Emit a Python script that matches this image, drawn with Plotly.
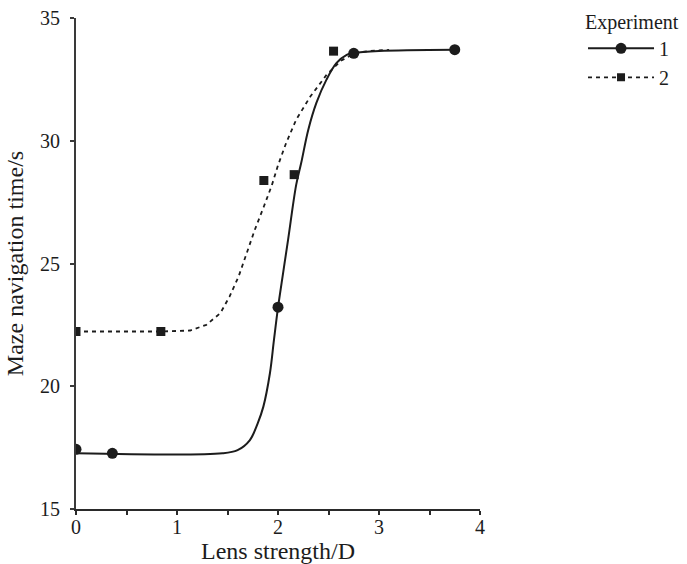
import plotly.graph_objects as go

# Measured data points
exp1_x = [0.0, 0.36, 2.0, 2.75, 3.75]
exp1_y = [17.43, 17.27, 23.22, 33.56, 33.71]
exp2_x = [0.0, 0.84, 1.86, 2.16, 2.55]
exp2_y = [22.23, 22.23, 28.38, 28.62, 33.65]

# Fitted curves
fit1_x = [0.0, 1.45, 1.6, 1.72, 1.8, 1.855, 1.92, 1.96, 2.0, 2.05, 2.1, 2.18, 2.23,
          2.3, 2.38, 2.48, 2.58, 2.68, 2.75, 3.0, 3.75]
fit1_y = [17.27, 17.27, 17.4, 17.8, 18.5, 19.17, 20.53, 21.89, 23.2, 24.6, 25.97, 28.2, 29.1,
          30.45, 31.54, 32.49, 33.17, 33.5, 33.58, 33.66, 33.71]
fit2_x = [0.0, 0.84, 1.13, 1.29, 1.43, 1.52, 1.61, 1.69, 1.77, 1.86, 1.94, 2.0, 2.08,
          2.18, 2.32, 2.48, 2.62, 2.75, 2.9, 3.1]
fit2_y = [22.23, 22.23, 22.27, 22.5, 22.98, 23.65, 24.47, 25.42, 26.37, 27.32, 28.2, 29.0, 29.9,
          30.86, 31.8, 32.68, 33.25, 33.55, 33.66, 33.7]

x_ticks = [0, 0.5, 1, 1.5, 2, 2.5, 3, 3.5, 4]
x_ticktext = ["0", "", "1", "", "2", "", "3", "", "4"]
y_ticks = [15, 20, 25, 30, 35]

INK = "#1c1c1c"
FONT = "Liberation Serif"

fig = go.Figure()
fig.add_trace(go.Scatter(x=fit2_x, y=fit2_y, mode="lines", showlegend=False,
                         line=dict(color=INK, width=1.8, dash="4px,4px"), hoverinfo="skip"))
fig.add_trace(go.Scatter(x=fit1_x, y=fit1_y, mode="lines", showlegend=False,
                         line=dict(color=INK, width=2), line_shape="spline", hoverinfo="skip"))
fig.add_trace(go.Scatter(x=exp1_x, y=exp1_y, mode="markers", showlegend=False,
                         marker=dict(symbol="circle", size=11, color=INK)))
fig.add_trace(go.Scatter(x=exp2_x, y=exp2_y, mode="markers", showlegend=False,
                         marker=dict(symbol="square", size=9, color=INK)))
# legend entries
fig.add_trace(go.Scatter(x=[None], y=[None], mode="lines+markers", name="1",
                         line=dict(color=INK, width=2),
                         marker=dict(symbol="circle", size=11, color=INK)))
fig.add_trace(go.Scatter(x=[None], y=[None], mode="lines+markers", name="2",
                         line=dict(color=INK, width=1.8, dash="4px,4px"),
                         marker=dict(symbol="square", size=8, color=INK)))

fig.update_layout(
    width=687, height=564,
    margin=dict(l=76, r=207, t=18, b=55, autoexpand=False),
    plot_bgcolor="white", paper_bgcolor="white",
    font=dict(family=FONT, size=20, color=INK),
    legend=dict(title=dict(text="Experiment", font=dict(size=20)),
                x=1.255, y=0.995, xanchor="left", yanchor="top", yref="container",
                font=dict(size=20), tracegroupgap=0, itemwidth=66,
                bgcolor="rgba(0,0,0,0)"),
    xaxis=dict(range=[0, 4], tickvals=x_ticks, ticktext=x_ticktext,
               showline=True, linecolor="#2a2a2a", linewidth=2, showgrid=False, zeroline=False,
               ticks="outside", ticklen=4, tickwidth=2, tickcolor="#2a2a2a",
               ticklabelstandoff=-5,
               title=dict(text="Lens strength/D", standoff=12)),
    yaxis=dict(range=[15, 35], tickvals=y_ticks,
               showline=True, linecolor="#3a3a3a", linewidth=2, showgrid=False, zeroline=False,
               ticks="outside", ticklen=4, tickwidth=2, tickcolor="#3a3a3a",
               ticklabelstandoff=6,
               title=dict(text="Maze navigation time/s", standoff=10)),
)

fig.write_html("out.html")
